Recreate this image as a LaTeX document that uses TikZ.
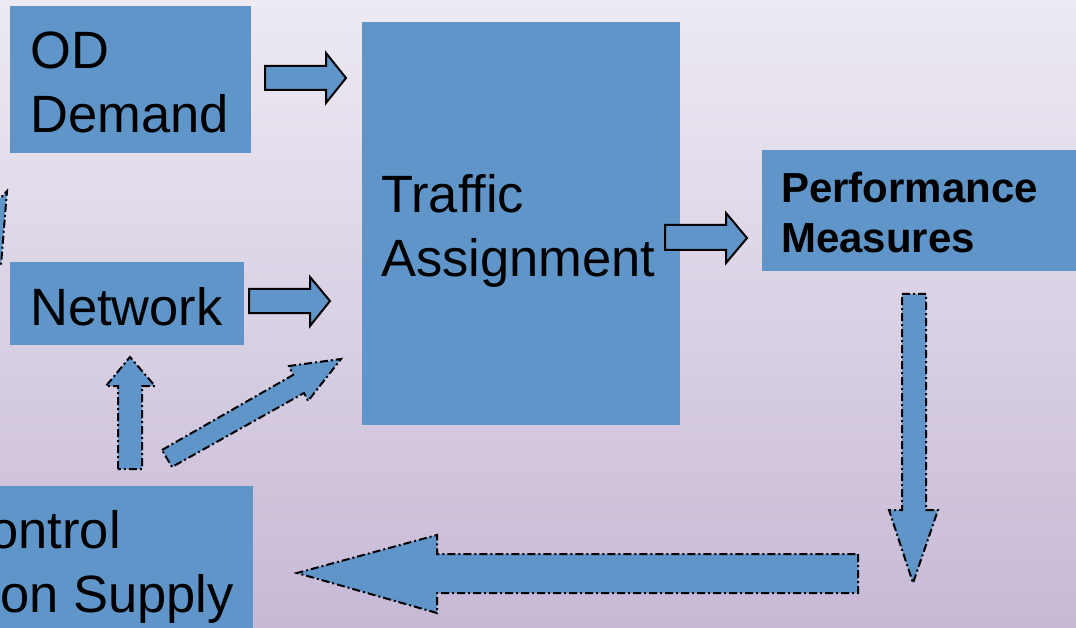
\documentclass[tikz,border=0pt]{standalone}
\usepackage{fontspec}
\setmainfont{Liberation Sans}

\definecolor{boxblue}{RGB}{95,149,200}
\definecolor{bgtop}{RGB}{237,234,243}
\definecolor{bgmid}{RGB}{226,219,234}
\definecolor{bgbottom}{RGB}{199,185,214}

\begin{document}
\begin{tikzpicture}[x=1pt, y=-1pt,
  box/.style = {fill=boxblue, draw=none, inner sep=0pt, anchor=north west},
  bigtext/.style = {font=\fontsize{52.5}{64}\selectfont, inner sep=0pt, anchor=base west},
  boldtext/.style = {font=\fontsize{42}{50}\selectfont\bfseries, inner sep=0pt, anchor=base west},
  plainarrow/.style = {fill=boxblue, draw=black, line width=2pt},
  dotarrow/.style = {fill=boxblue, draw=black, line width=2pt,
                     dash pattern=on 8pt off 3pt on 2pt off 3pt},
  ]
  \path[use as bounding box] (0,0) rectangle (1076,628);
  \clip (0,0) rectangle (1076,628);
  \shade[top color=bgtop, middle color=bgmid, bottom color=bgbottom] (0,0) rectangle (1076,628);

  % boxes
  \node[box, minimum width=241pt, minimum height=147pt] (od) at (10,6) {};
  \node[box, minimum width=234pt, minimum height=83pt] (network) at (10,262) {};
  \node[box, minimum width=318pt, minimum height=403pt] (assign) at (362,22) {};
  \node[box, minimum width=330pt, minimum height=121pt] (perf) at (762,150) {};
  \node[box, minimum width=253pt, minimum height=150pt] (control) at (0,486) {};

  % texts
  \node[bigtext] (od1) at (30,69) {OD};
  \node[bigtext] (od2) at (30,133) {Demand};
  \node[bigtext] (net1) at (30,325) {Network};
  \node[bigtext] (as1) at (381,213) {Traffic};
  \node[bigtext] (as2) at (381,277) {Assignment};
  \node[boldtext] (pf1) at (781,203) {Performance};
  \node[boldtext] (pf2) at (781,253) {Measures};
  \node[bigtext, anchor=base east] (ct1) at (121,548) {ontrol};
  \node[bigtext, anchor=base east] (ct2) at (234,612) {on Supply};

  % solid block arrows
  \draw[plainarrow] (265,66) -- (326,66) -- (326,53) -- (346,78)
    -- (326,103) -- (326,90) -- (265,90) -- cycle;
  \draw[plainarrow] (249,289) -- (310,289) -- (310,277) -- (330,301)
    -- (310,326) -- (310,313) -- (249,313) -- cycle;
  \draw[plainarrow] (665,225) -- (726,225) -- (726,213) -- (747,238)
    -- (726,263) -- (726,250) -- (665,250) -- cycle;

  % dash-dot block arrows
  \draw[dotarrow] (118,469) -- (118,386) -- (106,386) -- (130,357)
    -- (155,386) -- (142,386) -- (142,469) -- cycle;
  \draw[dotarrow] (162,450) -- (293,375) -- (289,366) -- (341,359)
    -- (308,401) -- (304,393) -- (172,467) -- cycle;
  \draw[dotarrow] (902,294) -- (926,294) -- (926,510) -- (938,510)
    -- (913,583) -- (889,510) -- (902,510) -- cycle;
  \draw[dotarrow] (858,554) -- (858,593) -- (437,593) -- (437,613)
    -- (297,573) -- (437,535) -- (437,554) -- cycle;
  \draw[dotarrow] (-6,205) -- (7,191) -- (1,265) -- (-12,265) -- cycle;
\end{tikzpicture}
\end{document}
